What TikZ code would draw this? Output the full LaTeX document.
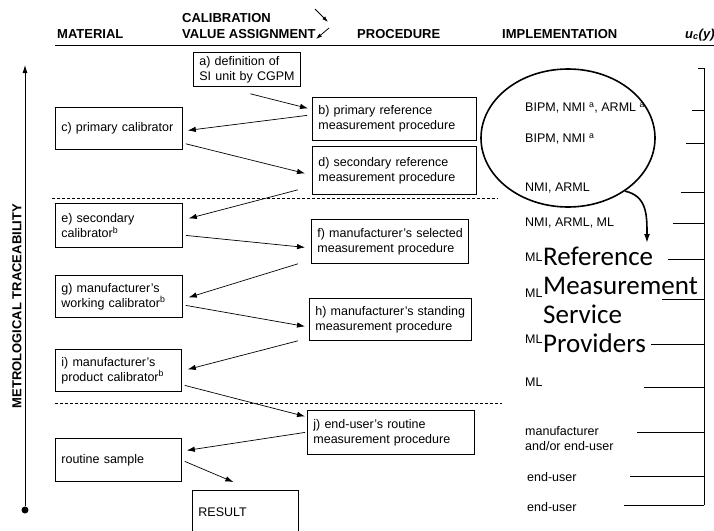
\documentclass[tikz,border=0pt]{standalone}
\usepackage{fontspec}
\setmainfont{Liberation Sans}
\newfontfamily\calibfont{Carlito}
\usetikzlibrary{arrows.meta}
\usetikzlibrary{calc}
\usetikzlibrary{shapes.geometric}
\hyphenpenalty=10000

\tikzset{
  stagebox/.style={draw,line width=0.8pt,align=left,inner xsep=6pt,inner ysep=2pt,anchor=north west,font=\fontsize{12.5}{15}\selectfont},
  flow/.style={line width=0.7pt,-{Latex[length=8pt,width=5.5pt]}},
  heading/.style={inner sep=0pt,font=\fontsize{13}{16}\selectfont\bfseries},
  impl/.style={inner sep=0pt,anchor=west,font=\fontsize{12.5}{15}\selectfont},
  tick/.style={line width=0.6pt},
  sep/.style={line width=0.7pt,dash pattern=on 3pt off 2pt}
}

\begin{document}
\begin{tikzpicture}[x=1pt,y=-1pt]
\useasboundingbox (0,0) rectangle (714,530);
\clip (0,0) rectangle (714,530);
\node (hmat) [heading,anchor=base west] at (57,38) {MATERIAL};
\node (hcal) [heading,anchor=north west,align=left] at (182,13) {CALIBRATION\\VALUE ASSIGNMENT};
\node (hproc) [heading,anchor=base west] at (357,38) {PROCEDURE};
\node (himpl) [heading,anchor=base west] at (502,38) {IMPLEMENTATION};
\node (hunc) [heading,anchor=base west] at (685,38) {\itshape u\textsubscript{c}(y)};
\draw[line width=1pt] (55,45) -- (714,45);
\draw[line width=0.8pt,-{Latex[length=6pt,width=4pt]}] (315,9) -- (328,22);
\draw[line width=0.8pt,-{Latex[length=6pt,width=4pt]}] (329,28) -- (316,39);

\node (root) [circle,fill,inner sep=0pt,minimum size=7pt] at (25,510) {};
\coordinate (apex) at (25,65);
\draw[line width=0.8pt,-{Latex[length=8pt,width=5pt]}] (root) -- (apex);
\node (trace) [heading,rotate=90] at (17,306) {METROLOGICAL TRACEABILITY};

\node (a) [stagebox,text width=95pt,minimum height=34pt] at (193,52) {a)~definition~of\\SI~unit~by~CGPM};
\node (b) [stagebox,text width=152pt,minimum height=43pt] at (312,97) {b)~primary~reference\\measurement~procedure};
\node (c) [stagebox,text width=115pt,minimum height=42pt] at (55,107) {c)~primary~calibrator};
\node (d) [stagebox,text width=152pt,minimum height=48pt] at (312,146) {d)~secondary~reference\\measurement~procedure};
\node (e) [stagebox,text width=115pt,minimum height=44pt] at (55,203) {e)~secondary\\calibrator\textsuperscript{b}};
\node (f) [stagebox,text width=145pt,minimum height=44pt] at (311,219) {f)~manufacturer’s~selected\\measurement~procedure};
\node (g) [stagebox,text width=115pt,minimum height=42pt] at (55,275) {g)~manufacturer’s\\working~calibrator\textsuperscript{b}};
\node (h) [stagebox,text width=150pt,minimum height=42pt] at (309,298) {h)~manufacturer’s~standing\\measurement~procedure};
\node (i) [stagebox,text width=114pt,minimum height=42pt] at (55,349) {i)~manufacturer’s\\product~calibrator\textsuperscript{b}};
\node (j) [stagebox,text width=155pt,minimum height=44pt] at (307,410) {j)~end-user’s~routine\\measurement~procedure};
\node (sample) [stagebox,text width=114pt,minimum height=43pt] at (55,438) {routine~sample};
\node (result) [stagebox,text width=94pt,minimum height=44pt] at (192,490) {RESULT};

\draw[sep] (52,198) -- (498,198);
\draw[sep] (55,403) -- (502,403);

\draw[flow] ([shift={(3.5,7)}]a.south) -- ([shift={(-4,-10.5)}]b.west);
\draw[flow] ([shift={(-5,-3.5)}]b.west) -- ([shift={(5,2)}]c.east);
\draw[flow] ([shift={(3,-6)}]c.south east) -- ([shift={(-7,3)}]d.west);
\draw[flow] ([shift={(-14,-5)}]d.south west) -- ([shift={(6,-7)}]e.east);
\draw[flow] ([shift={(3,10)}]e.east) -- ([shift={(-6,6)}]f.west);
\draw[flow] ([shift={(-13,0)}]f.south west) -- ([shift={(6,1)}]g.east);
\draw[flow] ([shift={(3,9)}]g.east) -- ([shift={(-4,7)}]h.west);
\draw[flow] ([shift={(-11,0)}]h.south west) -- ([shift={(6,-1)}]i.east);
\draw[flow] ([shift={(3,15)}]i.east) -- ([shift={(-2,-16)}]j.west);
\draw[flow] ([shift={(-2,0)}]j.west) -- ([shift={(5,-9.5)}]sample.east);
\draw[flow] ([shift={(3,1.5)}]sample.east) -- ([shift={(-12,-8)}]result.north);

\node (r1) [impl] at (525,108) {BIPM, NMI \textsuperscript{a}, ARML \textsuperscript{a}};
\node (r2) [impl] at (525,139) {BIPM, NMI \textsuperscript{a}};
\node (r3) [impl] at (525,188) {NMI, ARML};
\node (r4) [impl] at (525,223) {NMI, ARML, ML};
\node (r5) [impl] at (525,257) {ML};
\node (r6) [impl] at (525,293) {ML};
\node (r7) [impl] at (525,339) {ML};
\node (r8) [impl] at (525,382) {ML};
\node (r9) [impl,align=left] at (525,439) {manufacturer\\and/or end-user};
\node (r10) [impl] at (527,477) {end-user};
\node (r11) [impl] at (527,507) {end-user};

\node (rmsp) [anchor=north west,inner sep=0pt,align=left,font=\calibfont\fontsize{27}{29}\selectfont] at (543,247) {Reference\\Measurement\\Service\\Providers};

\node (oval) [draw,ellipse,line width=1.6pt,minimum width=174pt,minimum height=138pt,inner sep=0pt] at (568,138) {};
\coordinate (tip) at (647,243);
\draw[line width=1.6pt,-{Latex[length=9pt,width=6pt]}] (oval.-43) .. controls (647,196) and (647,215) .. (tip);

\draw[tick] (704,68) -- (704,505);
\draw[tick] (698,68) -- (704,68);
\draw[tick] (692,110) -- (704,110);
\draw[tick] (686,143) -- (704,143);
\draw[tick] (681,192) -- (704,192);
\draw[tick] (673,223) -- (704,223);
\draw[tick] (668,259) -- (704,259);
\draw[tick] (662,299) -- (704,299);
\draw[tick] (651,344) -- (704,344);
\draw[tick] (644,387) -- (704,387);
\draw[tick] (637,432) -- (704,432);
\draw[tick] (630,476) -- (704,476);
\draw[tick] (624,505) -- (704,505);
\end{tikzpicture}
\end{document}
